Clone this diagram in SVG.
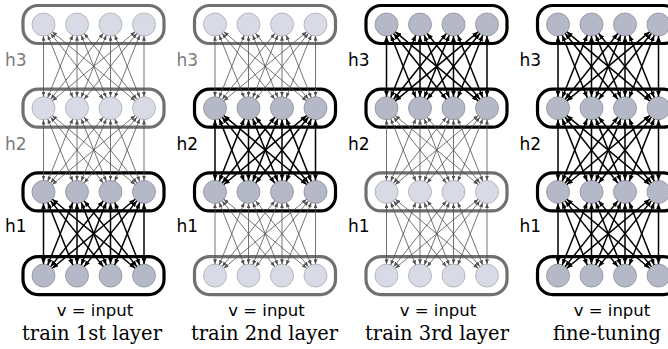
<svg xmlns="http://www.w3.org/2000/svg" xmlns:xlink="http://www.w3.org/1999/xlink" width="668" height="349" viewBox="0 0 668 349">
<style>
  .bg{fill:#fff}
  .frA{fill:none;stroke:#000;stroke-width:3.2}
  .frI{fill:none;stroke:#707070;stroke-width:3.2}
  .nD{fill:#b5b9c7;stroke:#8c8f98;stroke-width:0.8}
  .nL{fill:#d8dbe5;stroke:#aaacb3;stroke-width:0.8}
  .ca{stroke:#000;stroke-width:1.5;fill:none;marker-start:url(#mA);marker-end:url(#mA)}
  .ci{stroke:#505050;stroke-width:0.8;fill:none;marker-start:url(#mI);marker-end:url(#mI)}
  .lb{font-family:"DejaVu Sans",sans-serif;font-size:17px}
  .lA{fill:#000}
  .lI{fill:#7a7a7a}
  .cap1{font-family:"DejaVu Sans",sans-serif;font-size:16.5px;fill:#000;text-anchor:middle}
  .cap2{font-family:"DejaVu Serif",serif;font-size:19.5px;fill:#000;text-anchor:middle}
</style>
<defs>
  <marker id="mA" viewBox="0 0 6 5" refX="6" refY="2.5" markerWidth="6" markerHeight="5" markerUnits="userSpaceOnUse" orient="auto-start-reverse">
    <path d="M0,0 L6,2.5 L0,5 z" fill="#000"/>
  </marker>
  <marker id="mI" viewBox="0 0 6 5" refX="6" refY="2.5" markerWidth="5" markerHeight="4" markerUnits="userSpaceOnUse" orient="auto-start-reverse">
    <path d="M0,0 L6,2.5 L0,5 z" fill="#505050"/>
  </marker>
  <g id="conn">
    <line x1="0" y1="11.5" x2="0" y2="72.2"/>
    <line x1="4.27" y1="10.68" x2="29.23" y2="73.02"/>
    <line x1="7.19" y1="8.98" x2="59.81" y2="74.72"/>
    <line x1="8.84" y1="7.36" x2="91.66" y2="76.34"/>
    <line x1="29.23" y1="10.68" x2="4.27" y2="73.02"/>
    <line x1="33.5" y1="11.5" x2="33.5" y2="72.2"/>
    <line x1="37.77" y1="10.68" x2="62.73" y2="73.02"/>
    <line x1="40.69" y1="8.98" x2="93.31" y2="74.72"/>
    <line x1="59.81" y1="8.98" x2="7.19" y2="74.72"/>
    <line x1="62.73" y1="10.68" x2="37.77" y2="73.02"/>
    <line x1="67" y1="11.5" x2="67" y2="72.2"/>
    <line x1="71.27" y1="10.68" x2="96.23" y2="73.02"/>
    <line x1="91.66" y1="7.36" x2="8.84" y2="76.34"/>
    <line x1="93.31" y1="8.98" x2="40.69" y2="74.72"/>
    <line x1="96.23" y1="10.68" x2="71.27" y2="73.02"/>
    <line x1="100.5" y1="11.5" x2="100.5" y2="72.2"/>
  </g>
</defs>
<rect class="bg" x="0" y="0" width="668" height="349"/>

<!-- Panel 1: train 1st layer -->
<g id="p1-h3"><rect class="frI" x="23" y="5.5" width="141" height="38" rx="15"/><circle class="nL" cx="43.5" cy="24.5" r="11.5"/><circle class="nL" cx="77" cy="24.5" r="11.5"/><circle class="nL" cx="110.5" cy="24.5" r="11.5"/><circle class="nL" cx="144" cy="24.5" r="11.5"/></g>
<g id="p1-h2"><rect class="frI" x="23" y="89.2" width="141" height="38" rx="15"/><circle class="nL" cx="43.5" cy="108.2" r="11.5"/><circle class="nL" cx="77" cy="108.2" r="11.5"/><circle class="nL" cx="110.5" cy="108.2" r="11.5"/><circle class="nL" cx="144" cy="108.2" r="11.5"/></g>
<g id="p1-h1"><rect class="frA" x="23" y="172.9" width="141" height="38" rx="15"/><circle class="nD" cx="43.5" cy="191.9" r="11.5"/><circle class="nD" cx="77" cy="191.9" r="11.5"/><circle class="nD" cx="110.5" cy="191.9" r="11.5"/><circle class="nD" cx="144" cy="191.9" r="11.5"/></g>
<g id="p1-v"><rect class="frA" x="23" y="256.6" width="141" height="38" rx="15"/><circle class="nD" cx="43.5" cy="275.6" r="11.5"/><circle class="nD" cx="77" cy="275.6" r="11.5"/><circle class="nD" cx="110.5" cy="275.6" r="11.5"/><circle class="nD" cx="144" cy="275.6" r="11.5"/></g>

<!-- Panel 2: train 2nd layer -->
<g id="p2-h3"><rect class="frI" x="194.5" y="5.5" width="141" height="38" rx="15"/><circle class="nL" cx="215" cy="24.5" r="11.5"/><circle class="nL" cx="248.5" cy="24.5" r="11.5"/><circle class="nL" cx="282" cy="24.5" r="11.5"/><circle class="nL" cx="315.5" cy="24.5" r="11.5"/></g>
<g id="p2-h2"><rect class="frA" x="194.5" y="89.2" width="141" height="38" rx="15"/><circle class="nD" cx="215" cy="108.2" r="11.5"/><circle class="nD" cx="248.5" cy="108.2" r="11.5"/><circle class="nD" cx="282" cy="108.2" r="11.5"/><circle class="nD" cx="315.5" cy="108.2" r="11.5"/></g>
<g id="p2-h1"><rect class="frA" x="194.5" y="172.9" width="141" height="38" rx="15"/><circle class="nD" cx="215" cy="191.9" r="11.5"/><circle class="nD" cx="248.5" cy="191.9" r="11.5"/><circle class="nD" cx="282" cy="191.9" r="11.5"/><circle class="nD" cx="315.5" cy="191.9" r="11.5"/></g>
<g id="p2-v"><rect class="frI" x="194.5" y="256.6" width="141" height="38" rx="15"/><circle class="nL" cx="215" cy="275.6" r="11.5"/><circle class="nL" cx="248.5" cy="275.6" r="11.5"/><circle class="nL" cx="282" cy="275.6" r="11.5"/><circle class="nL" cx="315.5" cy="275.6" r="11.5"/></g>

<!-- Panel 3: train 3rd layer -->
<g id="p3-h3"><rect class="frA" x="366" y="5.5" width="141" height="38" rx="15"/><circle class="nD" cx="386.5" cy="24.5" r="11.5"/><circle class="nD" cx="420" cy="24.5" r="11.5"/><circle class="nD" cx="453.5" cy="24.5" r="11.5"/><circle class="nD" cx="487" cy="24.5" r="11.5"/></g>
<g id="p3-h2"><rect class="frA" x="366" y="89.2" width="141" height="38" rx="15"/><circle class="nD" cx="386.5" cy="108.2" r="11.5"/><circle class="nD" cx="420" cy="108.2" r="11.5"/><circle class="nD" cx="453.5" cy="108.2" r="11.5"/><circle class="nD" cx="487" cy="108.2" r="11.5"/></g>
<g id="p3-h1"><rect class="frI" x="366" y="172.9" width="141" height="38" rx="15"/><circle class="nL" cx="386.5" cy="191.9" r="11.5"/><circle class="nL" cx="420" cy="191.9" r="11.5"/><circle class="nL" cx="453.5" cy="191.9" r="11.5"/><circle class="nL" cx="487" cy="191.9" r="11.5"/></g>
<g id="p3-v"><rect class="frI" x="366" y="256.6" width="141" height="38" rx="15"/><circle class="nL" cx="386.5" cy="275.6" r="11.5"/><circle class="nL" cx="420" cy="275.6" r="11.5"/><circle class="nL" cx="453.5" cy="275.6" r="11.5"/><circle class="nL" cx="487" cy="275.6" r="11.5"/></g>

<!-- Panel 4: fine-tuning -->
<g id="p4-h3"><rect class="frA" x="537.5" y="5.5" width="141" height="38" rx="15"/><circle class="nD" cx="558" cy="24.5" r="11.5"/><circle class="nD" cx="591.5" cy="24.5" r="11.5"/><circle class="nD" cx="625" cy="24.5" r="11.5"/><circle class="nD" cx="658.5" cy="24.5" r="11.5"/></g>
<g id="p4-h2"><rect class="frA" x="537.5" y="89.2" width="141" height="38" rx="15"/><circle class="nD" cx="558" cy="108.2" r="11.5"/><circle class="nD" cx="591.5" cy="108.2" r="11.5"/><circle class="nD" cx="625" cy="108.2" r="11.5"/><circle class="nD" cx="658.5" cy="108.2" r="11.5"/></g>
<g id="p4-h1"><rect class="frA" x="537.5" y="172.9" width="141" height="38" rx="15"/><circle class="nD" cx="558" cy="191.9" r="11.5"/><circle class="nD" cx="591.5" cy="191.9" r="11.5"/><circle class="nD" cx="625" cy="191.9" r="11.5"/><circle class="nD" cx="658.5" cy="191.9" r="11.5"/></g>
<g id="p4-v"><rect class="frA" x="537.5" y="256.6" width="141" height="38" rx="15"/><circle class="nD" cx="558" cy="275.6" r="11.5"/><circle class="nD" cx="591.5" cy="275.6" r="11.5"/><circle class="nD" cx="625" cy="275.6" r="11.5"/><circle class="nD" cx="658.5" cy="275.6" r="11.5"/></g>

<g id="connectors">
  <use xlink:href="#conn" href="#conn" class="ci" x="43.5" y="24.5"/>
  <use xlink:href="#conn" href="#conn" class="ci" x="43.5" y="108.2"/>
  <use xlink:href="#conn" href="#conn" class="ca" x="43.5" y="191.9"/>
  <use xlink:href="#conn" href="#conn" class="ci" x="215" y="24.5"/>
  <use xlink:href="#conn" href="#conn" class="ca" x="215" y="108.2"/>
  <use xlink:href="#conn" href="#conn" class="ci" x="215" y="191.9"/>
  <use xlink:href="#conn" href="#conn" class="ca" x="386.5" y="24.5"/>
  <use xlink:href="#conn" href="#conn" class="ci" x="386.5" y="108.2"/>
  <use xlink:href="#conn" href="#conn" class="ci" x="386.5" y="191.9"/>
  <use xlink:href="#conn" href="#conn" class="ca" x="558" y="24.5"/>
  <use xlink:href="#conn" href="#conn" class="ca" x="558" y="108.2"/>
  <use xlink:href="#conn" href="#conn" class="ca" x="558" y="191.9"/>
</g>

<g id="labels">
  <text class="lb lI" x="5" y="66">h3</text>
  <text class="lb lI" x="5" y="149.5">h2</text>
  <text class="lb lA" x="5" y="232">h1</text>
  <text class="lb lI" x="176.5" y="66">h3</text>
  <text class="lb lA" x="176.5" y="149.5">h2</text>
  <text class="lb lA" x="176.5" y="232">h1</text>
  <text class="lb lA" x="348" y="66">h3</text>
  <text class="lb lA" x="348" y="149.5">h2</text>
  <text class="lb lA" x="348" y="232">h1</text>
  <text class="lb lA" x="519.5" y="66">h3</text>
  <text class="lb lA" x="519.5" y="149.5">h2</text>
  <text class="lb lA" x="519.5" y="232">h1</text>
</g>

<g id="captions">
  <text class="cap1" x="95" y="316">v = input</text>
  <text class="cap2" x="92" y="340">train 1st layer</text>
  <text class="cap1" x="266.5" y="316">v = input</text>
  <text class="cap2" x="264.5" y="340">train 2nd layer</text>
  <text class="cap1" x="438" y="316">v = input</text>
  <text class="cap2" x="437" y="340">train 3rd layer</text>
  <text class="cap1" x="612" y="316">v = input</text>
  <text class="cap2" x="607" y="340">fine-tuning</text>
</g>
</svg>
